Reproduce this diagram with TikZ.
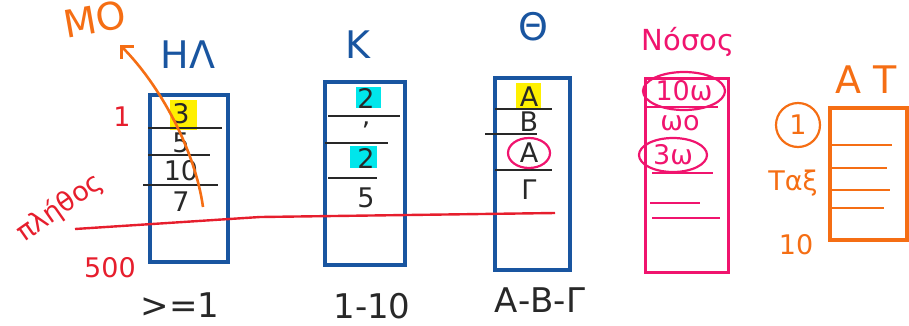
\documentclass[tikz,border=0pt]{standalone}
\usepackage{fontspec}
\setmainfont{DejaVu Sans}
\usetikzlibrary{arrows.meta}

\definecolor{penblue}{RGB}{25,85,160}
\definecolor{penred}{RGB}{230,30,45}
\definecolor{penorange}{RGB}{245,110,20}
\definecolor{penpink}{RGB}{240,20,110}
\definecolor{penink}{RGB}{40,40,40}
\definecolor{hlyellow}{RGB}{255,240,0}
\definecolor{hlcyan}{RGB}{0,230,235}

\tikzset{
  col/.style={draw=penblue, line width=3.2pt},
  sep/.style={draw=penink, line width=2.6pt},
  cell/.style={text=penink, font=\fontsize{27}{29}\selectfont, inner sep=1pt},
  head/.style={font=\fontsize{38}{40}\selectfont, inner sep=0pt},
  note/.style={font=\fontsize{27}{29}\selectfont, inner sep=0pt},
  rangetext/.style={text=penink, font=\fontsize{34}{36}\selectfont, inner sep=0pt}
}

\begin{document}
\begin{tikzpicture}[x=1pt, y=-1pt]
        \useasboundingbox (0,0) rectangle (909,325);

        % highlights
        \fill[hlyellow] (170,100) rectangle (197,130);
        \fill[hlcyan] (356,87) rectangle (381,108);
        \fill[hlcyan] (350,146) rectangle (377,168);
        \fill[hlyellow] (516,83) rectangle (541,110);

        % first column
        \draw[col] (150,95) rectangle (228,262);
        \foreach \y/\a/\b in {128/148/222, 155/148/210, 185/143/218}
          \draw[sep] (\a,\y) -- (\b,\y);
        \foreach \v/\y [count=\i from 1] in {3/114, 5/143, 10/171, 7/202}
          \node[cell] (hl\i) at (181,\y) {\v};
        \node[head, text=penblue] (hlhead) at (188,55) {ΗΛ};
        \node[rangetext] (hlrange) at (180,305) {>=1};

        % second column
        \draw[col] (325,82) rectangle (405,265);
        \foreach \y/\a/\b in {116/328/400, 143/325/388, 178/328/377}
          \draw[sep] (\a,\y) -- (\b,\y);
        \foreach \v/\y [count=\i from 1] in {2/98, '/132, 2/158, 5/198}
          \node[cell] (k\i) at (366,\y) {\v};
        \node[head, text=penblue] (khead) at (358,45) {Κ};
        \node[rangetext] (krange) at (372,306) {1-10};

        % third column
        \draw[col] (495,78) rectangle (570,270);
        \foreach \y/\a/\b in {109/495/552, 134/485/537, 170/495/552}
          \draw[sep] (\a,\y) -- (\b,\y);
        \foreach \v/\y [count=\i from 1] in {Α/97, Β/122, Α/153, Γ/190}
          \node[cell] (th\i) at (529,\y) {\v};
        \draw[penpink, line width=2.2pt] (th3) ellipse (21pt and 15pt);
        \node[head, text=penblue] (thhead) at (533,27) {Θ};
        \node[rangetext] (thrange) at (540,300) {Α-Β-Γ};

        % pink column
        \draw[penpink, line width=3pt] (645,78) rectangle (728,272);
        \foreach \y/\a/\b in {107/645/718, 173/652/713, 203/650/700, 218/652/720}
          \draw[penpink, line width=2.6pt] (\a,\y) -- (\b,\y);
        \node[note, text=penpink] (ns1) at (684,91) {10ω};
        \node[note, text=penpink] (ns2) at (680,123) {ωο};
        \node[note, text=penpink] (ns3) at (673,155) {3ω};
        \draw[penpink, line width=2.2pt] (ns1) ellipse (41pt and 19pt);
        \draw[penpink, line width=2.2pt] (ns3) ellipse (34pt and 17pt);
        \node[head, text=penpink, font=\fontsize{29}{31}\selectfont] (nshead) at (688,42) {Νόσος};

        % orange table
        \draw[penorange, line width=3.4pt] (830,108) rectangle (907,240);
        \foreach \y/\b in {145/892, 168/887, 190/890, 208/884}
          \draw[penorange, line width=2.8pt] (832,\y) -- (\b,\y);
        \node[head, text=penorange] (athead) at (866,80) {Α Τ};
        \node[note, text=penorange, draw=penorange, circle, line width=2.2pt, minimum size=44pt] (atone) at (798,125) {1};
        \node[note, text=penorange] (attax) at (793,183) {Ταξ};
        \node[note, text=penorange] (atten) at (796,245) {10};

        % red count line and labels
        \draw[penred, line width=2.4pt] (75,229) -- (260,217) -- (555,213);
        \node[note, text=penred] (first) at (122,117) {1};
        \node[note, text=penred] (last) at (110,268) {500};
        \node[note, text=penred, rotate=35] (count) at (60,208) {πλήθος};

        % orange arrow to the mean
        \coordinate (mostart) at (203,207);
        \coordinate (moend) at (120,45);
        \draw[penorange, line width=2.6pt, -{Straight Barb[length=9pt, width=18pt]}] (mostart) .. controls (195,150) and (160,85) .. (moend);
        \node[head, text=penorange, rotate=10] (mo) at (95,19) {ΜΟ};
\end{tikzpicture}
\end{document}
